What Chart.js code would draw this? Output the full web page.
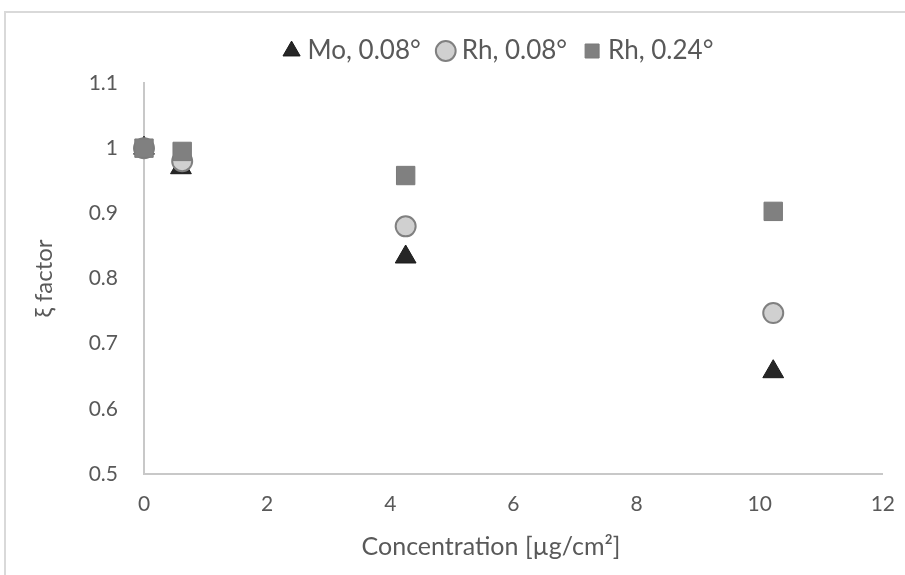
<!DOCTYPE html>
<html>
<head>
<meta charset="utf-8">
<script src="https://cdn.jsdelivr.net/npm/chart.js@4"></script>
<style>
  html, body { margin: 0; padding: 0; background: #fff; }
  #wrap { position: relative; width: 905px; height: 575px; overflow: hidden; }
  #frame { position: absolute; left: 4px; top: 11px; width: 1000px; height: 1000px;
           border-left: 2px solid #d9d9d9; border-top: 2px solid #d9d9d9; }
  canvas { position: absolute; left: 0; top: 0; }
</style>
</head>
<body>
<div id="wrap">
  <div id="frame"></div>
  <canvas id="c" width="905" height="575"></canvas>
</div>
<script>
const seriesNames = ['Mo, 0.08°', 'Rh, 0.08°', 'Rh, 0.24°'];
const moX   = [0, 0.6, 4.25, 10.22];
const moY   = [1.0, 0.97, 0.833, 0.657];
const rh08X = [0, 0.62, 4.25, 10.22];
const rh08Y = [1.0, 0.98, 0.88, 0.747];
const rh24X = [0, 0.62, 4.25, 10.22];
const rh24Y = [1.0, 0.995, 0.958, 0.903];
const xTicks = [0, 2, 4, 6, 8, 10, 12];
const yTicks = [0.5, 0.6, 0.7, 0.8, 0.9, 1, 1.1];

const pts = (xs, ys) => xs.map((x, i) => ({x: x, y: ys[i]}));
const txt = '#595959';
const fam = 'Lato, "Open Sans", sans-serif';

const legendShift = {
  id: 'legendShift',
  afterLayout(chart) {
    const l = chart.legend;
    if (!l) return;
    const dx = 501 - (l.left + l.right) / 2;
    const dy = -9;
    l.left += dx; l.right += dx;
    l.top += dy; l.bottom += dy;
  }
};

new Chart(document.getElementById('c'), {
  type: 'scatter',
  data: {
    datasets: [
      { label: seriesNames[0], data: pts(moX, moY), order: 3, clip: false,
        pointStyle: 'triangle', pointRadius: 12, pointHoverRadius: 12,
        backgroundColor: '#262626', borderColor: '#1a1a1a', borderWidth: 1 },
      { label: seriesNames[1], data: pts(rh08X, rh08Y), order: 2, clip: false,
        pointStyle: 'circle', pointRadius: 10, pointHoverRadius: 10,
        backgroundColor: '#d0d0d0', borderColor: '#808080', borderWidth: 2 },
      { label: seriesNames[2], data: pts(rh24X, rh24Y), order: 1, clip: false,
        pointStyle: 'rect', pointRadius: 13, pointHoverRadius: 13,
        backgroundColor: '#808080', borderColor: '#7a7a7a', borderWidth: 1 }
    ]
  },
  options: {
    responsive: false,
    animation: false,
    layout: { padding: { left: 0, right: 21, top: 25, bottom: 0 } },
    plugins: {
      tooltip: { enabled: false },
      legend: {
        position: 'top',
        labels: {
          usePointStyle: true,
          boxWidth: 6, boxHeight: 14,
          padding: 22,
          color: txt,
          font: { family: fam, size: 26 },
          sort: (a, b) => a.datasetIndex - b.datasetIndex
        }
      }
    },
    scales: {
      x: {
        type: 'linear',
        min: 0, max: 12,
        afterBuildTicks: s => { s.ticks = xTicks.map(v => ({value: v})); },
        afterFit: s => { s.height = 101; },
        grid: { display: false },
        border: { display: true, color: '#c8c8c8', width: 2 },
        ticks: { color: txt, padding: 10, font: { family: fam, size: 21 } },
        title: { display: true, text: 'Concentration [µg/cm²]' + '       ', color: txt,
                 font: { family: fam, size: 25 }, padding: { top: 0, bottom: 13 } }
      },
      y: {
        type: 'linear',
        min: 0.5, max: 1.1,
        afterBuildTicks: s => { s.ticks = yTicks.map(v => ({value: v})); },
        afterFit: s => { s.width = 144; },
        grid: { display: false },
        border: { display: true, color: '#c8c8c8', width: 2 },
        ticks: { color: txt, padding: 18, font: { family: fam, size: 21 },
                 callback: v => String(Math.round(v * 10) / 10) },
        title: { display: true, text: 'ξ factor', color: txt,
                 font: { family: fam, size: 24 }, padding: { top: 30, bottom: 0 } }
      }
    }
  },
  plugins: [legendShift]
});
</script>
</body>
</html>
